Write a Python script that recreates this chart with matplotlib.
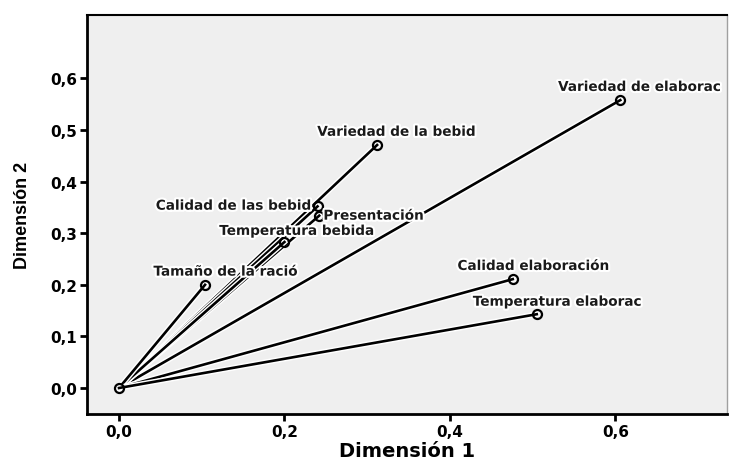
import matplotlib
matplotlib.use("Agg")
import matplotlib.pyplot as plt
import matplotlib.patheffects as pe

# variable labels and their coordinates
names = ['Variedad de elaborac', 'Variedad de la bebid', 'Calidad de las bebid',
         'Presentación', 'Temperatura bebida', 'Tamaño de la ració',
         'Calidad elaboración', 'Temperatura elaborac']
dim1 = [0.606, 0.312, 0.240, 0.242, 0.200, 0.104, 0.476, 0.505]
dim2 = [0.558, 0.471, 0.352, 0.334, 0.283, 0.200, 0.211, 0.143]

xticks = [0.0, 0.2, 0.4, 0.6]
yticks = [0.0, 0.1, 0.2, 0.3, 0.4, 0.5, 0.6]

# label offsets in points (style only)
offsets = [(14, 9.5), (14, 9.5), (-4.5, 0.5), (3, 0), (9, 8), (15, 9.5), (15, 9.5), (15, 9)]
aligns = ['center', 'center', 'right', 'left', 'center', 'center', 'center', 'center']

plt.rcParams['font.family'] = ['DejaVu Sans']

fig = plt.figure(figsize=(7.29, 4.64), dpi=100)
ax = fig.add_axes([87 / 729, 1 - 415 / 464, (727 - 87) / 729, (415 - 16) / 464])
ax.set_facecolor('#efefef')

halo = [pe.Stroke(linewidth=4, foreground='white'), pe.Normal()]
for x, y in zip(dim1, dim2):
    ax.plot([0, x], [0, y], color='black', lw=1.9, path_effects=halo, zorder=2)
ax.plot(dim1 + [0], dim2 + [0], 'o', ms=6.5, mfc='none', mec='black', mew=1.6, zorder=3)

thalo = [pe.withStroke(linewidth=3, foreground='white')]
for n, x, y, off, ha in zip(names, dim1, dim2, offsets, aligns):
    ax.annotate(n, (x, y), xytext=off, textcoords='offset points', ha=ha, va='center',
                fontsize=9.8, fontweight='bold', color='#1a1a1a', path_effects=thalo,
                zorder=4, annotation_clip=False, clip_on=True)

ax.set_xlim(-0.0387, 0.735)
ax.set_ylim(-0.0504, 0.723)
ax.set_xticks(xticks)
ax.set_yticks(yticks)
ax.set_xticklabels([f'{t:.1f}'.replace('.', ',') for t in xticks], fontsize=11, fontweight='bold')
ax.set_yticklabels([f'{t:.1f}'.replace('.', ',') for t in yticks], fontsize=11, fontweight='bold')
ax.tick_params(direction='out', length=5, width=2, pad=2)

for s in ['left', 'bottom']:
    ax.spines[s].set_linewidth(2)
ax.spines['right'].set_linewidth(1)
ax.spines['right'].set_color('#a0a0a0')
ax.spines['top'].set_linewidth(1.5)

ax.set_xlabel('Dimensión 1', fontsize=14, fontweight='bold', labelpad=2)
ax.set_ylabel('Dimensión 2', fontsize=13, fontweight='bold',
              family=['Liberation Sans Narrow', 'DejaVu Sans Condensed', 'Liberation Sans'],
              labelpad=14)

fig.savefig('out.png', dpi=100)
